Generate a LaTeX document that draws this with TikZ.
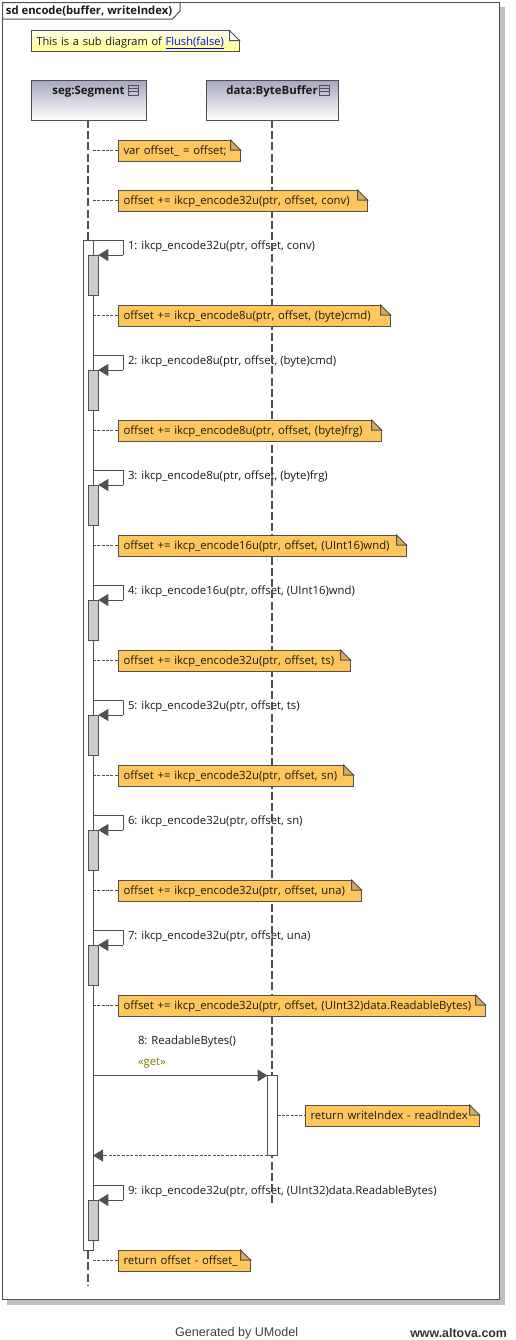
\documentclass[tikz,border=0pt]{standalone}
\usepackage{fontspec}
\setmainfont{Open Sans}
\newfontfamily\footfont{Liberation Sans}
\usetikzlibrary{arrows.meta,calc}
\definecolor{umlline}{HTML}{505050}
\definecolor{umlshadow}{HTML}{BEBEBE}
\definecolor{noteorange}{HTML}{FFC65C}
\definecolor{noteear}{HTML}{D9AC5C}
\definecolor{headtop}{HTML}{A6A6BE}
\definecolor{subgray}{HTML}{CCCCCC}
\definecolor{stereo}{HTML}{808000}
\tikzset{
  every node/.style={outer sep=0pt},
  umltext/.style={font=\fontsize{8.5}{10}\selectfont,text=black!90,inner sep=0pt},
  umlbold/.style={umltext,font=\fontsize{8.6}{10}\selectfont\bfseries},
  umlnote/.style={umltext,draw=umlline,line width=.75pt,fill=noteorange,anchor=west,align=left,
    minimum height=15.75pt,minimum width=#1*.75pt,text width=(#1-10)*.75pt,inner xsep=3.75pt,
    text height=8pt,text depth=1.9pt},
  lifehead/.style={draw=umlline,line width=.75pt,top color=headtop,bottom color=white,
    minimum height=30pt,inner sep=0pt},
  lifeline/.style={draw=umlline,line width=1.2pt,dash pattern=on 6pt off 2.4pt},
  activation/.style={draw=umlline,line width=.75pt,fill=white,minimum width=7.5pt,inner sep=0pt},
  subactivation/.style={activation,fill=subgray,anchor=north,minimum height=30pt},
  msg/.style={draw=umlline,line width=.75pt,-{Triangle[length=7.5pt,width=9pt]}},
  msgreturn/.style={msg,dash pattern=on 2.25pt off 1pt},
  noteconn/.style={draw=umlline,line width=.6pt,dash pattern=on 2.25pt off 1pt}
}
\newcommand{\dogear}[2]{%
  \fill[white] ($(#1.north east)+(-10,-1)$) -- ($(#1.north east)+(1,-1)$) -- ($(#1.north east)+(1,10)$) -- cycle;
  \draw[draw=umlline,line width=.75pt,fill=#2] ($(#1.north east)+(-10,0)$) -- ($(#1.north east)+(0,10)$) -- ($(#1.north east)+(-10,10)$) -- cycle;
}
\begin{document}
\begin{tikzpicture}[x=.75pt,y=-.75pt]
    \useasboundingbox (0,0) rectangle (516,1340);
    \fill[white] (0,0) rectangle (516,1340);

    % Frame
    \fill[umlshadow] (7,7) rectangle (505,1305);
    \draw[draw=umlline,line width=.75pt,fill=white] (2.5,2.5) rectangle (499.5,1299.5);
    \draw[draw=umlline,line width=.75pt,fill=white] (2.5,2.5) -- (180,2.5) -- (180,11) -- (172.5,19) -- (2.5,19) -- cycle;
    \node[umlbold,anchor=west,font=\fontsize{8.45}{10}\selectfont\bfseries] (framelabel) at (6,11.5) {sd encode(buffer, writeIndex)};

    % Yellow note
    \node[umlnote=208,top color=yellow!8,bottom color=yellow!45!white,font=\fontsize{8.3}{10}\selectfont] (subnote) at (31.5,41) {This is a sub diagram of \textcolor{blue}{\underline{Flush(false)}}};
    \dogear{subnote}{white}

    % Lifeline heads
    \node[lifehead,minimum width=86.25pt] (seg) at (88.75,100) {};
    \node[lifehead,minimum width=99pt] (data) at (272.5,100) {};
    \node[umlbold] (seglabel) at (88.5,91.5) {seg:Segment};
    \node[umlbold] (datalabel) at (272,91.5) {data:ByteBuffer};
    \foreach \h/\x in {segicon/133.5,dataicon/324.5} {
      \node[draw=umlline,line width=.6pt,minimum width=7.5pt,minimum height=7.5pt,inner sep=0pt] (\h) at (\x,90) {};
      \draw[draw=umlline,line width=.6pt] ($(\h.west)+(0,-1.7)$) -- ($(\h.east)+(0,-1.7)$);
      \draw[draw=umlline,line width=.6pt] ($(\h.west)+(0,1.7)$) -- ($(\h.east)+(0,1.7)$);
    }

    % Message labels
    \foreach \n/\y/\t in {
      1/240/{1: ikcp\_encode32u(ptr, offset, conv)},
      2/355/{2: ikcp\_encode8u(ptr, offset, (byte)cmd)},
      3/470/{3: ikcp\_encode8u(ptr, offset, (byte)frg)},
      4/585/{4: ikcp\_encode16u(ptr, offset, (UInt16)wnd)},
      5/700/{5: ikcp\_encode32u(ptr, offset, ts)},
      6/815/{6: ikcp\_encode32u(ptr, offset, sn)},
      7/930/{7: ikcp\_encode32u(ptr, offset, una)},
      9/1185/{9: ikcp\_encode32u(ptr, offset, (UInt32)data.ReadableBytes)}
    } {
      \node[umltext,anchor=west] (call\n) at (128,\y+7) {\t};
    }
    \node[umltext,anchor=west] (call8) at (138,1042) {8: ReadableBytes()};
    \node[umltext,anchor=west,text=stereo] (getlabel) at (138,1063) {«get»};

    % Lifelines
    \coordinate (segend) at (88,1285);
    \coordinate (dataend) at (272,1205);
    \draw[lifeline] (seg.south -| segend) -- (segend);
    \draw[lifeline] (data.south -| dataend) -- (dataend);

    % Activations
    \node[activation,minimum height=757.5pt] (segact) at (88,745) {};
    \node[activation,minimum height=60pt] (dataact) at (272.5,1115.5) {};

    % Self calls
    \foreach \n/\y in {1/240,2/355,3/470,4/585,5/700,6/815,7/930,9/1185} {
      \node[subactivation] (sub\n) at (93.3,\y+15) {};
      \coordinate (turn\n) at (123,\y);
      \draw[draw=umlline,line width=.75pt] (segact.east |- turn\n) -- (turn\n) -- (turn\n |- sub\n.north east);
      \draw[msg] (turn\n |- sub\n.north east) -- (sub\n.north east);
    }

    % Notes on seg
    \foreach \n/\y/\w/\t in {
      a/150/122/{var offset\_ = offset;},
      b/200/249/{offset += ikcp\_encode32u(ptr, offset, conv)},
      c/315/272/{offset += ikcp\_encode8u(ptr, offset, (byte)cmd)},
      d/430/263/{offset += ikcp\_encode8u(ptr, offset, (byte)frg)},
      e/545/288/{offset += ikcp\_encode16u(ptr, offset, (UInt16)wnd)},
      f/660/232/{offset += ikcp\_encode32u(ptr, offset, ts)},
      g/775/235/{offset += ikcp\_encode32u(ptr, offset, sn)},
      h/890/243/{offset += ikcp\_encode32u(ptr, offset, una)},
      i/1005/367/{offset += ikcp\_encode32u(ptr, offset, (UInt32)data.ReadableBytes)},
      j/1260/132/{return offset - offset\_}
    } {
      \node[umlnote=\w] (note\n) at (118.5,\y+.5) {\t};
      \dogear{note\n}{noteear}
      \draw[noteconn] (segact.east |- note\n.west) -- (note\n.west);
    }

    % Call to data
    \draw[msg] (segact.east |- dataact.north west) -- (dataact.north west);
    \draw[msgreturn] (dataact.south west) -- (segact.east |- dataact.south west);
    \node[umlnote=174] (notek) at (305.5,1115.5) {return writeIndex - readIndex};
    \dogear{notek}{noteear}
    \draw[noteconn] (dataact.east) -- (notek.west);

    % Footer
    \node[inner sep=0pt,anchor=west,text=black!75,font=\footfont\fontsize{9.45}{10}\selectfont] (generated) at (175,1333) {Generated by UModel};
    \node[inner sep=0pt,anchor=east,text=black!80,font=\footfont\fontsize{9.3}{10}\selectfont\bfseries] (altova) at (507,1333) {www.altova.com};
\end{tikzpicture}
\end{document}
